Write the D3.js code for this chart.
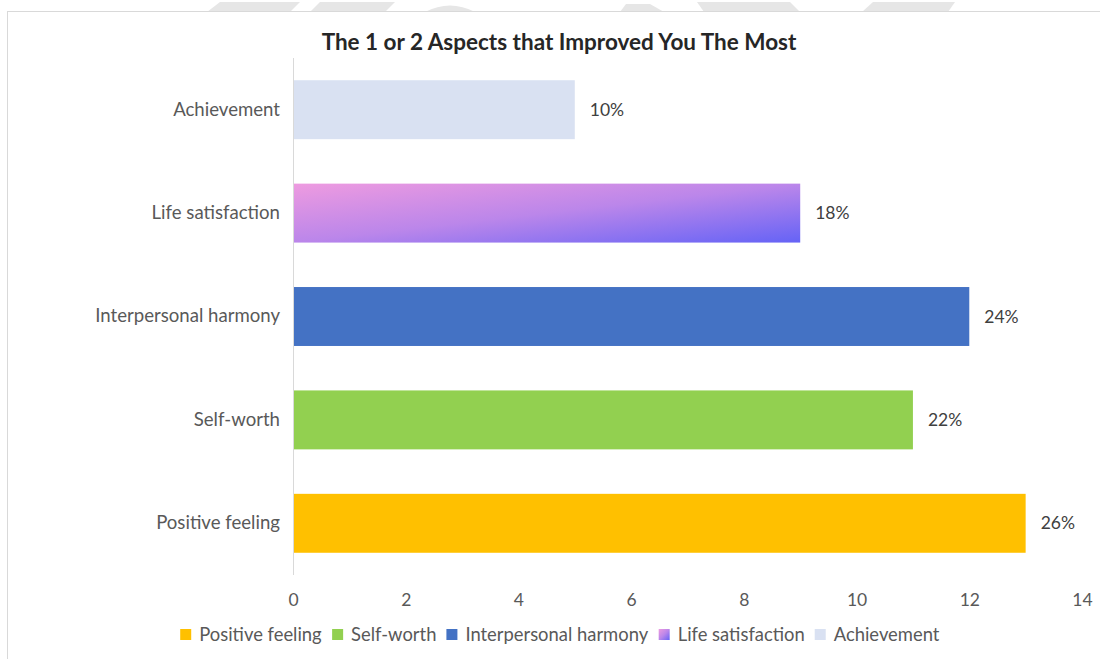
<!DOCTYPE html>
<html>
<head>
<meta charset="utf-8">
<script src="https://cdn.jsdelivr.net/npm/d3@7"></script>
<style>
  html, body { margin: 0; padding: 0; background: #fff; }
  svg { display: block; }
  text { font-family: Lato, "Open Sans", sans-serif; }
</style>
</head>
<body>
<svg id="chart" width="1100" height="659"></svg>
<script>
// Survey: the 1 or 2 aspects respondents said improved them the most
const categories = ["Positive feeling", "Self-worth", "Interpersonal harmony", "Life satisfaction", "Achievement"];
const counts = [13, 11, 12, 9, 5];
const percentLabels = ["26%", "22%", "24%", "18%", "10%"];
const xTicks = [0, 2, 4, 6, 8, 10, 12, 14];
const barColors = ["#FFC000", "#92D050", "#4472C4", "url(#lifeGrad)", "#D9E1F2"];
const chartTitle = "The 1 or 2 Aspects that Improved You The Most";

const svg = d3.select("#chart");
const textColor = "#595959";

// faint backdrop shapes peeking above the chart frame
const backdrop = svg.append("g").attr("fill", "#e6e6e6");
backdrop.append("path").attr("d", "M207,12 L220,2 L300,2 L290,12 Z");
backdrop.append("path").attr("d", "M310,12 L320,2 L395,2 L385,12 Z");
backdrop.append("path").attr("d", "M425,12 Q450,-1 475,12 Z");
backdrop.append("path").attr("d", "M620,12 L626,4 L650,4 L664,12 Z");
backdrop.append("path").attr("d", "M704,12 L697,2 L790,2 L800,12 Z");
backdrop.append("path").attr("d", "M862,12 L873,2 L955,2 L948,12 Z");

// chart frame
svg.append("rect")
  .attr("x", 7.5).attr("y", 11.5)
  .attr("width", 1110).attr("height", 660)
  .attr("fill", "#fff").attr("stroke", "#d9d9d9").attr("stroke-width", 1);

const defs = svg.append("defs");
const grad = defs.append("linearGradient")
  .attr("id", "lifeGrad")
  .attr("x1", "0").attr("y1", "0").attr("x2", "1").attr("y2", "1");
grad.append("stop").attr("offset", "0%").attr("stop-color", "#ee9be0");
grad.append("stop").attr("offset", "50%").attr("stop-color", "#bb86ea");
grad.append("stop").attr("offset", "100%").attr("stop-color", "#6563f6");

const margin = { left: 293, right: 1082, top: 58, bottom: 575 };

const x = d3.scaleLinear().domain([0, 14]).range([margin.left, margin.right]);
const y = d3.scaleBand()
  .domain(categories.slice().reverse())
  .range([margin.top, margin.bottom])
  .paddingInner(0.43).paddingOuter(0.215);

// title
svg.append("text")
  .attr("x", 559).attr("y", 50)
  .attr("text-anchor", "middle")
  .attr("font-size", 22.5).attr("font-weight", "bold")
  .attr("fill", "#262626")
  .text(chartTitle);

// bars
const data = categories.map((c, i) => ({ cat: c, value: counts[i], label: percentLabels[i], color: barColors[i] }));

svg.append("g").selectAll("rect").data(data).join("rect")
  .attr("x", x(0))
  .attr("y", d => y(d.cat))
  .attr("width", d => x(d.value) - x(0))
  .attr("height", y.bandwidth())
  .attr("fill", d => d.color);

// vertical category axis line
svg.append("line")
  .attr("x1", x(0) + 0.5).attr("x2", x(0) + 0.5)
  .attr("y1", margin.top).attr("y2", margin.bottom)
  .attr("stroke", "#d9d9d9");

// value labels
svg.append("g").selectAll("text").data(data).join("text")
  .attr("x", d => x(d.value) + 15)
  .attr("y", d => y(d.cat) + y.bandwidth() / 2)
  .attr("dy", "0.35em")
  .attr("font-size", 17.5).attr("fill", "#404040")
  .text(d => d.label);

// category labels
const yAxis = d3.axisLeft(y).tickSize(0).tickPadding(13);
const gy = svg.append("g").attr("transform", `translate(${x(0)},0)`).call(yAxis);
gy.select(".domain").remove();
gy.selectAll("text").attr("font-size", 18.6).attr("fill", textColor).style("font-family", "Lato, 'Open Sans', sans-serif");

// value axis
const xAxis = d3.axisBottom(x).tickValues(xTicks).tickSize(0).tickPadding(19);
const gx = svg.append("g").attr("transform", `translate(0,${margin.bottom})`).call(xAxis);
gx.select(".domain").remove();
gx.selectAll("text").attr("font-size", 17.5).attr("fill", textColor).style("font-family", "Lato, 'Open Sans', sans-serif");

// legend
const legend = svg.append("g");
const items = legend.selectAll("g").data(data).join("g");
items.append("rect").attr("width", 11).attr("height", 11).attr("y", -6).attr("fill", d => d.color);
items.append("text").attr("x", 19).attr("dy", "0.35em")
  .attr("font-size", 18.4).attr("fill", textColor).text(d => d.cat);
let cursor = 0;
const offsets = [];
items.each(function () {
  offsets.push(cursor);
  cursor += this.getBBox().width + 10;
});
const total = cursor - 10;
const startX = 560 - total / 2;
items.attr("transform", (d, i) => `translate(${startX + offsets[i]},635)`);
</script>
</body>
</html>
